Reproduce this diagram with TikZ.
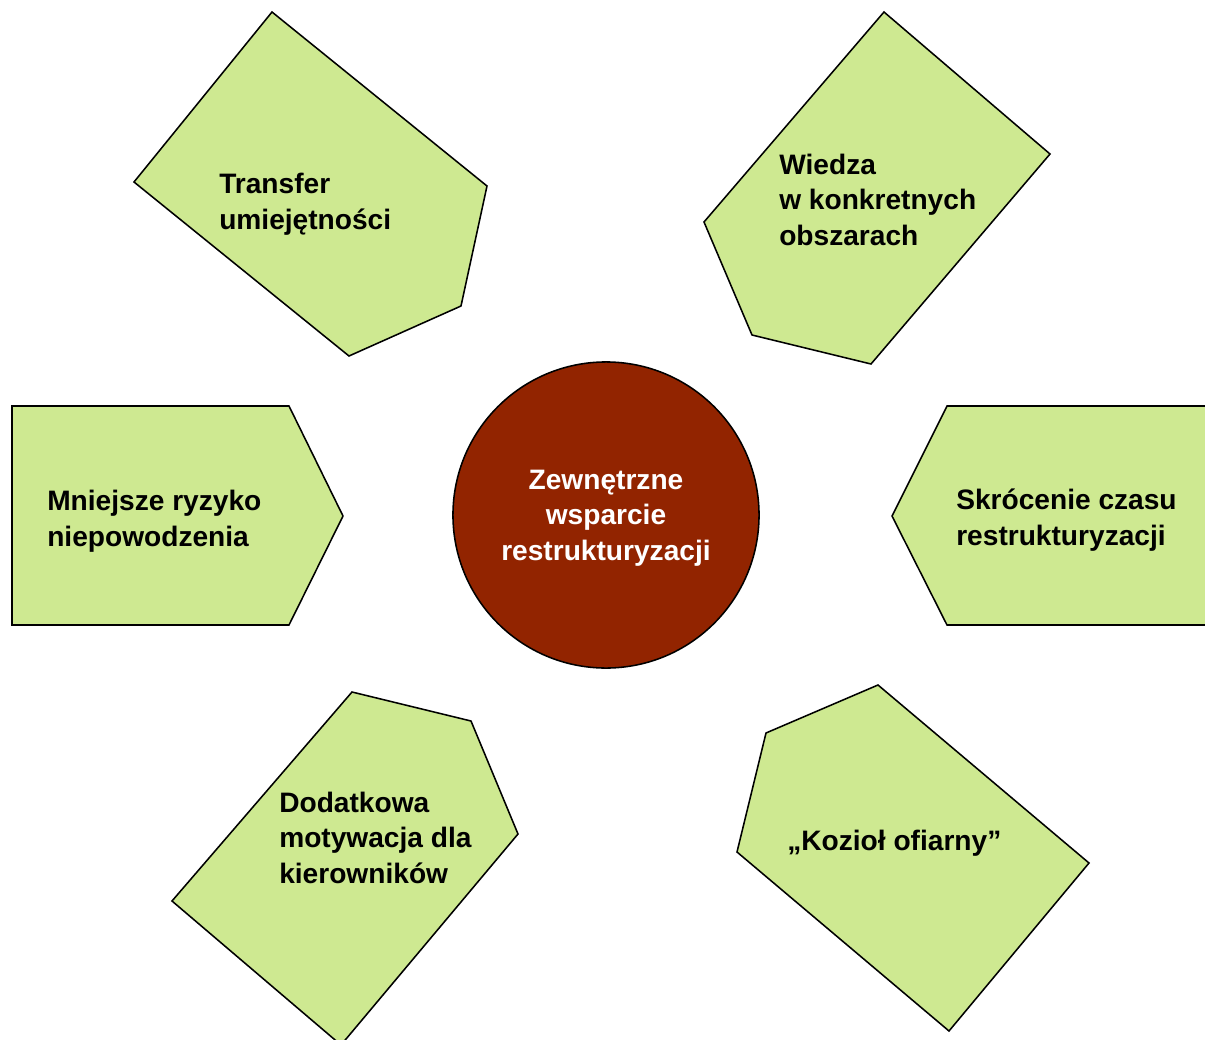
\documentclass[tikz,border=0pt]{standalone}
\usepackage{fontspec}
\setmainfont{Liberation Sans}
\definecolor{zielony}{RGB}{206,233,145}
\definecolor{bordo}{RGB}{146,36,0}
\tikzset{
  pole/.style={draw=black, fill=zielony, line width=1.1pt, line join=miter},
  napis/.style={anchor=base west, align=left, inner sep=0pt,
    font=\fontsize{20}{24.9}\selectfont\bfseries},
}
\begin{document}
\begin{tikzpicture}[x=0.025cm, y=-0.025cm]
  \useasboundingbox (0,0) rectangle (1205,1040);
  \clip (0,0) rectangle (1205,1040);
  % Transfer umiejętności
  \draw[pole] (272,12) -- (487,186) -- (461,306) -- (349,356) -- (134,182) -- cycle;
  \node[napis] (transfer) at (219,229) {Transfer\\umiejętności};
  % Wiedza w konkretnych obszarach
  \draw[pole] (884,12) -- (1050,154) -- (871,364) -- (752,335) -- (704,222) -- cycle;
  \node[napis] (wiedza) at (779,245) {Wiedza\\w konkretnych\\obszarach};
  % Mniejsze ryzyko niepowodzenia
  \draw[pole] (12,406) -- (289,406) -- (343,516) -- (289,625) -- (12,625) -- cycle;
  \node[napis] (ryzyko) at (47,546) {Mniejsze ryzyko\\niepowodzenia};
  % Skrócenie czasu restrukturyzacji
  \draw[pole] (947,406) -- (1220,406) -- (1220,625) -- (947,625) -- (892,516) -- cycle;
  \node[napis] (czas) at (956,545) {Skrócenie czasu\\restrukturyzacji};
  % Dodatkowa motywacja dla kierowników
  \draw[pole] (352,692) -- (471,721) -- (518,834) -- (341,1045) -- (172,901) -- cycle;
  \node[napis] (motywacja) at (279,883) {Dodatkowa\\motywacja dla\\kierowników};
  % „Kozioł ofiarny”
  \draw[pole] (878,685) -- (1089,863) -- (949,1031) -- (737,852) -- (766,733) -- cycle;
  \node[napis] (koziol) at (787,850) {„Kozioł ofiarny”};
  % Zewnętrzne wsparcie restrukturyzacji
  \node[circle, draw=black, line width=1.1pt, fill=bordo, minimum size=7.65cm,
    inner sep=0pt] (wsparcie) at (606,515) {};
  \node[napis, anchor=base, align=center, text=white] (srodek) at (606,560)
    {Zewnętrzne\\wsparcie\\restrukturyzacji};
\end{tikzpicture}
\end{document}
